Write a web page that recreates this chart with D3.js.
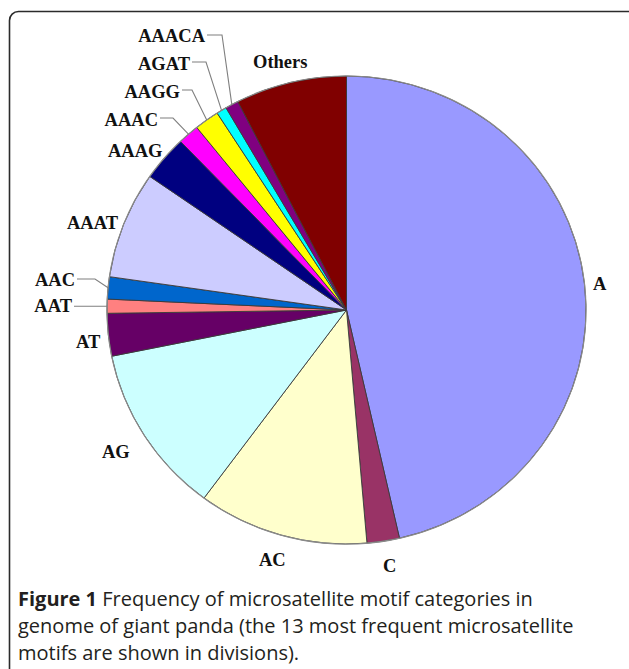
<!DOCTYPE html>
<html>
<head>
<meta charset="utf-8">
<script src="https://cdn.jsdelivr.net/npm/d3@7"></script>
<style>
  html, body { margin: 0; padding: 0; background: #fff; }
  svg { display: block; }
</style>
</head>
<body>
<svg id="chart" width="629" height="669"></svg>
<script>
// Motif categories, clockwise from 12 o'clock
const motifs = ["A", "C", "AC", "AG", "AT", "AAT", "AAC", "AAAT", "AAAG", "AAAC", "AAGG", "AGAT", "AAACA", "Others"];
// Share of all microsatellites (%)
const shares = [46.44, 2.19, 11.5, 11.69, 2.94, 0.97, 1.53, 7.39, 3.14, 1.44, 1.67, 0.69, 0.89, 7.5];
const sliceColors = ["#9999ff", "#993366", "#ffffcc", "#ccffff", "#660066", "#ff8080", "#0066cc",
                     "#ccccff", "#000080", "#ff00ff", "#ffff00", "#00ffff", "#800080", "#800000"];

const captionBold = "Figure 1";
const captionLines = [
  " Frequency of microsatellite motif categories in",
  "genome of giant panda (the 13 most frequent microsatellite",
  "motifs are shown in divisions)."
];

const svg = d3.select("#chart");

// Figure frame (right and bottom edges run off the page)
svg.append("rect")
  .attr("x", 9.5).attr("y", 11.5)
  .attr("width", 630).attr("height", 700)
  .attr("rx", 9).attr("ry", 9)
  .attr("fill", "none")
  .attr("stroke", "#2b2b2b")
  .attr("stroke-width", 1.6);

// Pie geometry (slightly squashed vertically)
const cx = 346.5, cy = 310, rx = 239.5, ry = 234;

const pie = d3.pie().sort(null).value(d => d.value).startAngle(0).endAngle(2 * Math.PI);
const data = motifs.map((m, i) => ({ name: m, value: shares[i], color: sliceColors[i] }));
const arcs = pie(data);
const arc = d3.arc().innerRadius(0).outerRadius(rx);

const g = svg.append("g")
  .attr("transform", `translate(${cx},${cy}) scale(1,${ry / rx})`);

g.selectAll("path")
  .data(arcs)
  .enter().append("path")
  .attr("d", arc)
  .attr("fill", d => d.data.color)
  .attr("stroke", "#3a3a3a")
  .attr("stroke-width", 0.9)
  .attr("vector-effect", "non-scaling-stroke");

// Outer rim
g.append("ellipse")
  .attr("cx", 0).attr("cy", 0).attr("rx", rx).attr("ry", rx)
  .attr("fill", "none")
  .attr("stroke", "#8a8a8a")
  .attr("stroke-width", 1.2)
  .attr("vector-effect", "non-scaling-stroke");

// Point on the rim at the middle of a slice
function rimPoint(d) {
  const a = (d.startAngle + d.endAngle) / 2;
  return [cx + rx * Math.sin(a), cy - ry * Math.cos(a)];
}

// Label placement: text anchor point and, for small slices, leader bend
const labelLayout = {
  "A":      { x: 593, y: 290, anchor: "start" },
  "C":      { x: 383, y: 572, anchor: "start" },
  "AC":     { x: 259, y: 566, anchor: "start" },
  "AG":     { x: 102, y: 458, anchor: "start" },
  "AT":     { x: 76,  y: 348, anchor: "start" },
  "AAT":    { x: 72,  y: 312, anchor: "end", bend: null },
  "AAC":    { x: 75,  y: 286, anchor: "end", bend: [95, 279] },
  "AAAT":   { x: 67,  y: 229, anchor: "start" },
  "AAAG":   { x: 108, y: 157, anchor: "start" },
  "AAAC":   { x: 158, y: 126, anchor: "end", bend: [173, 118] },
  "AAGG":   { x: 180, y: 98,  anchor: "end", bend: [192, 90] },
  "AGAT":   { x: 190, y: 70,  anchor: "end", bend: [206, 62] },
  "AAACA":  { x: 205, y: 42,  anchor: "end", bend: [222, 35] },
  "Others": { x: 253, y: 68,  anchor: "start" }
};

const leaderLayer = svg.append("g");
const labelLayer = svg.append("g");

arcs.forEach(d => {
  const L = labelLayout[d.data.name];
  labelLayer.append("text")
    .attr("x", L.x).attr("y", L.y)
    .attr("text-anchor", L.anchor)
    .attr("font-family", "'Liberation Serif', 'Times New Roman', serif")
    .attr("font-weight", "bold")
    .attr("font-size", 18.5)
    .attr("fill", "#111")
    .text(d.data.name);

  if (L.bend !== undefined) {
    const end = rimPoint(d);
    const ly = L.bend ? L.bend[1] : end[1];
    const pts = [[L.x + 2, ly]];
    if (L.bend) pts.push(L.bend);
    pts.push(end);
    leaderLayer.append("path")
      .attr("d", d3.line()(pts))
      .attr("fill", "none")
      .attr("stroke", "#7f7f7f")
      .attr("stroke-width", 1.1);
  }
});

// Caption
const cap = svg.append("g")
  .attr("font-family", "'Open Sans', 'Noto Sans', sans-serif")
  .attr("font-size", 20)
  .attr("fill", "#231f20");

const first = cap.append("text").attr("x", 18).attr("y", 606);
first.append("tspan").attr("font-weight", "bold").text(captionBold);
first.append("tspan").text(captionLines[0]);
cap.append("text").attr("x", 18).attr("y", 633).text(captionLines[1]);
cap.append("text").attr("x", 18).attr("y", 660).text(captionLines[2]);
</script>
</body>
</html>
